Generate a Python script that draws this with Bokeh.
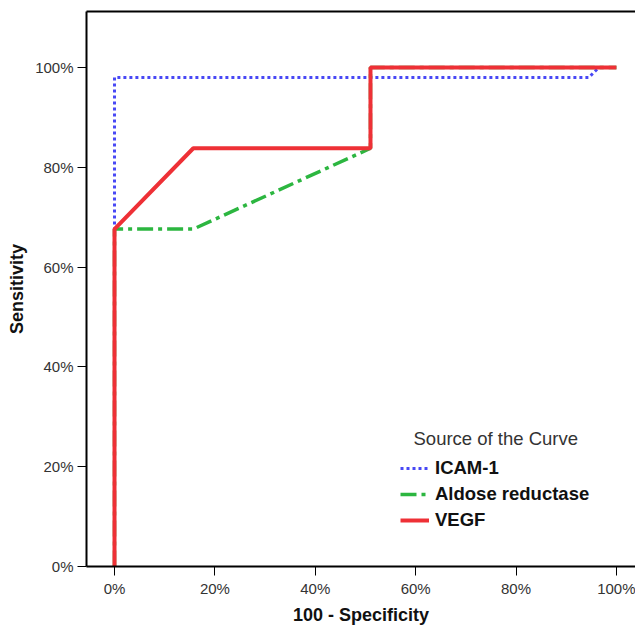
from bokeh.plotting import figure
from bokeh.models import (LinearAxis, FixedTicker, PrintfTickFormatter, Legend,
                          LegendItem, Label, Range1d)
from bokeh.embed import file_html
from bokeh.resources import INLINE

# ---- data (percent) ----
icam_x = [0, 0, 0, 94.5, 96.5, 100]
icam_y = [0, 67.6, 98, 98, 100, 100]

aldose_x = [0, 0, 15.7, 51, 51, 100]
aldose_y = [0, 67.6, 67.6, 83.8, 100, 100]

vegf_x = [0, 0, 15.7, 51, 51, 100]
vegf_y = [0, 67.6, 83.8, 83.8, 100, 100]

tick_values = [0, 20, 40, 60, 80, 100]
series_names = ["ICAM-1", "Aldose reductase", "VEGF"]
legend_title = "Source of the Curve"
x_label = "100 - Specificity"
y_label = "Sensitivity"

X_START, X_END = -5.58, 103.8
Y_START, Y_END = 0, 111.2

FONT = "Liberation Sans"

p = figure(frame_width=549, frame_height=555,
           x_range=Range1d(X_START, X_END), y_range=Range1d(Y_START, Y_END),
           output_backend="svg", toolbar_location=None,
           min_border_left=86, min_border_right=0, min_border_top=11,
           min_border_bottom=0)
p.outline_line_color = None
p.grid.visible = False
p.background_fill_color = "white"
p.border_fill_color = "white"

for ax in (p.xaxis[0], p.yaxis[0]):
    ax.ticker = FixedTicker(ticks=tick_values)
    ax.formatter = PrintfTickFormatter(format="%d%%")
    ax.minor_tick_line_color = None
    ax.major_tick_in = 0
    ax.major_tick_out = 9
    ax.major_tick_line_width = 1
    ax.major_tick_line_color = "black"
    ax.axis_line_width = 2
    ax.axis_line_color = "black"
    ax.major_label_text_font = FONT
    ax.major_label_text_font_size = "15px"
    ax.major_label_text_color = "#333333"
    ax.axis_label_text_font = FONT
    ax.axis_label_text_font_size = "18px"
    ax.axis_label_text_font_style = "bold"
    ax.axis_label_text_color = "#111111"

p.xaxis[0].axis_label = x_label
p.xaxis[0].major_label_standoff = 4
p.xaxis[0].axis_label_standoff = 5
p.yaxis[0].axis_label = y_label
p.yaxis[0].major_label_standoff = 4
p.yaxis[0].axis_label_standoff = 5

top_axis = LinearAxis(ticker=FixedTicker(ticks=[]), major_tick_out=0, major_tick_in=0,
                      minor_tick_out=0, minor_tick_in=0,
                      major_label_text_font_size="0px",
                      axis_line_width=2, axis_line_color="black")
p.add_layout(top_axis, "above")

r_icam = p.line(icam_x, icam_y, line_color="#4848f5", line_width=3,
                line_dash="3 3", line_cap="butt")
r_ald = p.line(aldose_x, aldose_y, line_color="#2cb640", line_width=3.5,
               line_dash="16 5 4 5", line_cap="butt")
r_vegf = p.line(vegf_x, vegf_y, line_color="#ee3036", line_width=4)

legend = Legend(items=[LegendItem(label=series_names[0], renderers=[r_icam]),
                       LegendItem(label=series_names[1], renderers=[r_ald]),
                       LegendItem(label=series_names[2], renderers=[r_vegf])],
                location=(314, 33))
legend.border_line_color = None
legend.background_fill_alpha = 0
legend.label_text_font = FONT
legend.label_text_font_size = "18.5px"
legend.label_text_font_style = "bold"
legend.label_text_color = "#111111"
legend.glyph_width = 29
legend.glyph_height = 26
legend.label_height = 26
legend.spacing = 0
legend.padding = 0
legend.margin = 0
legend.label_standoff = 6
p.add_layout(legend)

title = Label(x=327, y=128, x_units="screen", y_units="screen", text=legend_title,
              text_font=FONT, text_font_size="18.5px", text_color="#333333",
              text_baseline="middle")
p.add_layout(title)

open("out.html", "w").write(file_html(p, INLINE))
